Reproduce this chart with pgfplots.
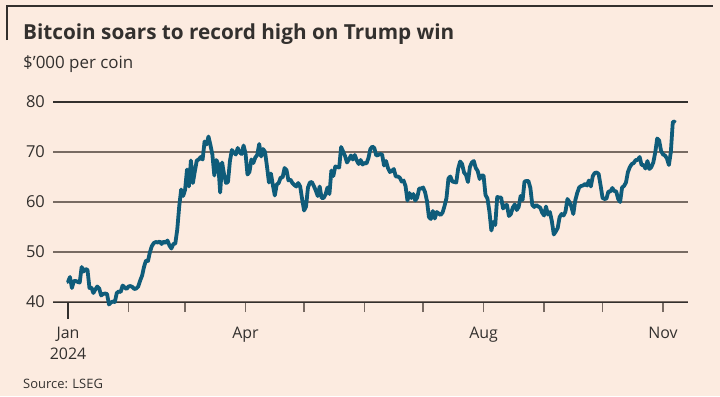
\documentclass[border=0pt]{standalone}
\usepackage{pgfplots}
\pgfplotsset{compat=1.18}
\usepackage{pgfplotstable}
\usepackage{fontspec}
\setmainfont{Open Sans}
\definecolor{bg}{HTML}{FCEBE0}
\definecolor{ink}{HTML}{33302E}
\definecolor{gridc}{HTML}{786B63}
\definecolor{teal}{HTML}{0F5C7A}
\pgfplotstableread{
day val
0 44.0
1 45.0
2 42.8
3 44.2
4 44.2
5 44.0
6 43.9
7 47.0
8 46.1
9 46.6
10 46.4
11 42.8
12 42.9
13 41.8
14 42.5
15 43.1
16 42.7
17 41.3
18 41.6
19 41.7
20 41.6
21 39.5
22 39.9
23 40.1
24 40.0
25 41.8
26 42.1
27 42.0
28 43.3
29 42.9
30 42.6
31 43.1
32 43.2
33 43.0
34 42.6
35 42.7
36 43.1
37 44.3
38 45.3
39 47.1
40 48.3
41 48.2
42 50.0
43 51.2
44 51.8
45 52.0
46 51.9
47 52.1
48 51.6
49 52.1
50 51.8
51 52.3
52 51.3
53 50.7
54 51.6
55 51.7
56 54.5
57 59.1
58 62.5
59 61.2
60 62.4
61 66.5
62 63.1
63 68.3
64 63.8
65 66.1
66 68.3
67 68.5
68 69.0
69 68.5
70 72.1
71 71.5
72 73.1
73 71.4
74 69.5
75 65.3
76 68.4
77 67.6
78 61.9
79 67.9
80 65.5
81 63.8
82 64.0
83 68.2
84 70.4
85 69.9
86 69.5
87 70.8
88 69.9
89 69.6
90 71.3
91 69.7
92 65.5
93 66.0
94 68.5
95 67.8
96 68.9
97 69.4
98 71.6
99 69.1
100 70.6
101 70.0
102 67.1
103 63.9
104 65.7
105 63.4
106 61.3
107 63.5
108 63.8
109 64.9
110 64.9
111 66.8
112 66.4
113 64.3
114 64.5
115 63.8
116 63.4
117 63.1
118 63.8
119 63.1
120 60.6
121 58.3
122 59.1
123 62.9
124 63.9
125 64.0
126 63.2
127 62.3
128 61.2
129 63.1
130 60.8
131 60.8
132 61.5
133 62.9
134 61.6
135 66.3
136 65.2
137 67.1
138 67.0
139 66.9
140 71.0
141 70.1
142 69.2
143 67.9
144 68.5
145 69.3
146 68.5
147 69.4
148 68.3
149 67.6
150 68.4
151 67.5
152 67.8
153 67.7
154 68.8
155 70.6
156 71.1
157 70.8
158 69.3
159 69.4
160 69.6
161 69.5
162 67.3
163 68.2
164 66.8
165 66.0
166 66.2
167 66.6
168 65.1
169 65.1
170 64.9
171 64.1
172 64.3
173 63.2
174 60.3
175 61.8
176 60.8
177 61.6
178 60.3
179 60.9
180 62.7
181 62.7
182 62.9
183 62.0
184 60.2
185 57.0
186 56.6
187 58.2
188 56.7
189 58.0
190 57.7
191 57.4
192 57.9
193 59.2
194 60.8
195 64.7
196 65.1
197 64.1
198 64.0
199 63.9
200 66.7
201 68.1
202 67.6
203 65.9
204 65.4
205 64.0
206 67.0
207 67.9
208 68.2
209 66.8
210 66.2
211 64.6
212 65.3
213 65.3
214 61.4
215 60.7
216 58.1
217 54.3
218 56.0
219 55.4
220 61.0
221 60.9
222 60.9
223 58.7
224 59.3
225 59.4
226 57.2
227 57.6
228 58.9
229 59.5
230 58.4
231 59.0
232 61.2
233 60.4
234 64.1
235 64.2
236 64.2
237 62.8
238 59.4
239 59.0
240 59.4
241 59.1
242 58.9
243 57.9
244 57.3
245 59.1
246 57.5
247 58.0
248 56.2
249 53.5
250 54.1
251 54.8
252 57.0
253 57.6
254 57.3
255 58.1
256 60.6
257 60.0
258 59.1
259 57.6
260 60.3
261 61.8
262 62.9
263 63.2
264 63.3
265 63.6
266 63.3
267 64.3
268 63.1
269 65.2
270 65.8
271 65.9
272 65.6
273 63.3
274 60.8
275 60.6
276 60.7
277 62.1
278 62.1
279 62.8
280 62.2
281 62.1
282 60.6
283 60.0
284 62.9
285 63.2
286 63.9
287 66.0
288 67.0
289 67.6
290 67.8
291 68.4
292 68.4
293 69.0
294 67.4
295 67.4
296 66.7
297 68.2
298 66.6
299 67.0
300 67.9
301 69.9
302 72.7
303 72.3
304 70.2
305 69.5
306 69.3
307 68.7
308 67.4
309 70.0
310 76.0
311 76.1
}\btc
\begin{document}
\begin{tikzpicture}[x=1bp,y=1bp]
\useasboundingbox (0,0) rectangle (720,396);
\fill[bg] (0,0) rectangle (720,396);
\draw[ink, line width=1.6bp] (7,356) -- (7,390) -- (713,390);
\node[anchor=base west, inner sep=0, text=ink, font=\fontsize{20.8}{24}\selectfont\bfseries] at (23,357) {Bitcoin soars to record high on Trump win};
\node[anchor=base west, inner sep=0, text=ink, font=\fontsize{17}{20}\selectfont] at (23,328) {\$’000 per coin};
\node[anchor=base west, inner sep=0, text=ink, font=\fontsize{13}{15}\selectfont] at (23,8) {Source: LSEG};
\begin{axis}[
  at={(53bp,94bp)}, anchor=south west,
  scale only axis, width=635bp, height=200bp,
  xmin=-7.69, xmax=317.8, ymin=40, ymax=80,
  clip=false,
  axis x line*=bottom, axis y line*=left,
  y axis line style={draw=none},
  x axis line style={ink, line width=1bp, -},
  ytick={40,50,60,70}, extra y ticks={80},
  ymajorgrids,
  grid style={gridc, line width=1.5bp},
  extra y tick style={grid style={ink, line width=1.5bp}},
  ytick style={draw=none},
  yticklabel style={text=ink, font=\fontsize{16.5}{19}\selectfont, anchor=east, inner sep=0pt, xshift=2bp},
  /pgf/number format/assume math mode=true,
  xtick={0,31,60,91,121,152,182,213,244,274,305},
  xticklabels={{Jan\\2024},,,Apr,,,,Aug,,,Nov},
  xticklabel style={text=ink, font=\fontsize{16}{21}\selectfont, align=center, anchor=north, yshift=-12bp},
  tick align=outside, major tick length=10bp,
  xtick style={gridc, line width=1.2bp},
]
\addplot[teal, line width=3.8bp, line join=round, line cap=round] table[x=day, y=val] {\btc};
\draw[ink, line width=1.3bp] (axis cs:0,40) -- ([yshift=-17bp]axis cs:0,40);
\end{axis}
\end{tikzpicture}
\end{document}
